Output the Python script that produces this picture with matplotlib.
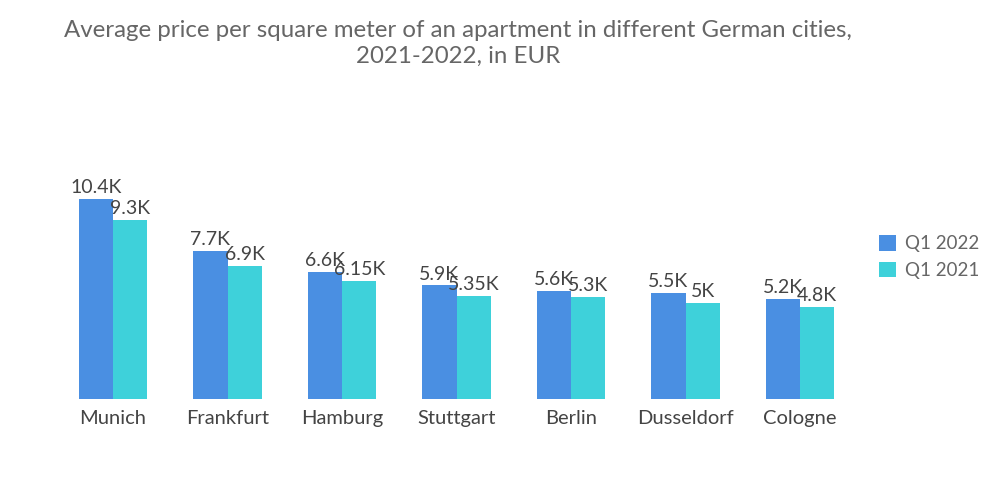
import matplotlib
matplotlib.use("Agg")
import matplotlib.pyplot as plt
import numpy as np

cities = ["Munich", "Frankfurt", "Hamburg", "Stuttgart", "Berlin", "Dusseldorf", "Cologne"]
q1_2022 = [10400, 7700, 6600, 5900, 5600, 5500, 5200]
q1_2021 = [9300, 6900, 6150, 5350, 5300, 5000, 4800]
labels_2022 = ["10.4K", "7.7K", "6.6K", "5.9K", "5.6K", "5.5K", "5.2K"]
labels_2021 = ["9.3K", "6.9K", "6.15K", "5.35K", "5.3K", "5K", "4.8K"]
series_names = ["Q1 2022", "Q1 2021"]

plt.rcParams['font.family'] = ['Lato', 'DejaVu Sans']

fig = plt.figure(figsize=(10, 5.04), dpi=100)
ax = fig.add_axes([0.06, 0.2083, 0.795, 0.4584])

x = np.arange(len(cities))
w = 0.3
c1, c2 = "#4A8FE2", "#3ED1DA"
b1 = ax.bar(x - w/2, q1_2022, w, color=c1, label=series_names[0])
b2 = ax.bar(x + w/2, q1_2021, w, color=c2, label=series_names[1])

for rect, lab in zip(b1, labels_2022):
    ax.text(rect.get_x() + rect.get_width()/2, rect.get_height() + 150, lab,
            ha="center", va="bottom", fontsize=14, color="#444444")
for rect, lab in zip(b2, labels_2021):
    ax.text(rect.get_x() + rect.get_width()/2, rect.get_height() + 150, lab,
            ha="center", va="bottom", fontsize=14, color="#444444")

ax.set_xlim(-0.463, 6.48)
ax.set_ylim(0, 12000)
ax.set_xticks(x)
ax.set_xticklabels(cities, fontsize=14.5, color="#444444")
ax.tick_params(axis="x", length=0, pad=8)
ax.set_yticks([])
for s in ax.spines.values():
    s.set_visible(False)

fig.text(0.458, 0.96, "Average price per square meter of an apartment in different German cities,\n2021-2022, in EUR",
         ha="center", va="top", fontsize=17.3, color="#666666", linespacing=1.25)

leg = fig.legend(handles=[b1, b2], labels=series_names, loc="center left",
                 bbox_to_anchor=(0.862, 0.49), frameon=False, fontsize=13.5,
                 handlelength=0.9, handleheight=0.9, handletextpad=0.5, labelspacing=0.5)
for t in leg.get_texts():
    t.set_color("#666666")

fig.savefig("out.png", dpi=100, facecolor="white")
